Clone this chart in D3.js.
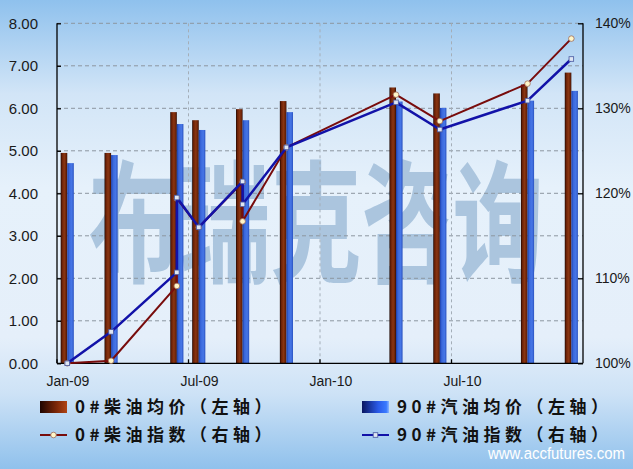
<!DOCTYPE html>
<html><head><meta charset="utf-8">
<script src="https://cdn.jsdelivr.net/npm/d3@7"></script>
<style>body{margin:0;background:#fff;} svg{display:block;}</style>
</head><body><svg id="c" width="633" height="469"></svg>
<script>
// ---------- data ----------
const barMonths = ["2009-01","2009-03","2009-06","2009-07","2009-09","2009-11","2010-04","2010-06","2010-10","2010-12"];
const dieselPrice = [4.95,4.95,5.91,5.72,5.98,6.17,6.49,6.35,6.56,6.84];
const gasolinePrice = [4.71,4.90,5.63,5.49,5.72,5.91,6.16,6.01,6.18,6.41];
const indexMonths = ["2009-01","2009-03","2009-06","2009-06","2009-07","2009-09","2009-09","2009-11","2010-04","2010-06","2010-10","2010-12"];
const dieselIndex = [100,100.3,109.1,119.4,116.0,121.3,116.7,125.4,131.6,128.5,132.9,138.2];
const gasolineIndex = [100,103.7,110.7,119.5,116.0,121.4,118.7,125.4,130.7,127.5,130.9,135.8];
const leftTicks = [0,1,2,3,4,5,6,7,8];
const rightTicks = [100,110,120,130,140];
const xTickMonths = ["2009-01","2009-07","2010-01","2010-07"];
const xTickLabels = ["Jan-09","Jul-09","Jan-10","Jul-10"];
const seriesNames = ["0#柴油均价（左轴）","90#汽油均价（左轴）","0#柴油指数（右轴）","90#汽油指数（右轴）"];
const watermark = "布瑞克咨询";
const siteText = "www.accfutures.com";

// ---------- layout ----------
const W = 633, H = 469;
const L = 57, R = 583, T = 23.3, B = 363.3;
const svg = d3.select("#c");
const defs = svg.append("defs");

function grad(id, stops, horiz) {
  const g = defs.append("linearGradient").attr("id", id)
    .attr("x1", 0).attr("y1", 0).attr("x2", horiz ? 1 : 0).attr("y2", horiz ? 0 : 1);
  stops.forEach(s => g.append("stop").attr("offset", s[0]).attr("stop-color", s[1]));
}
grad("bg", [[0,"#8fc1ed"],[0.2,"#d2e5f7"],[0.4,"#e6f1fb"],[0.72,"#e5effa"],[0.84,"#cde2f6"],[1,"#90c1ec"]], false);
grad("brownBar", [[0,"#1a0500"],[0.2,"#6a2006"],[0.55,"#8a3612"],[0.85,"#6a2208"],[1,"#2a0a00"]], true);
grad("blueBar", [[0,"#1a3ca8"],[0.3,"#3a68dc"],[0.7,"#4676e6"],[1,"#2a52c0"]], true);
grad("brownSw", [[0,"#1e0500"],[0.6,"#7a2608"],[1,"#b04414"]], true);
grad("blueSw", [[0,"#0a1660"],[0.6,"#2a5ae8"],[0.9,"#3a7aff"],[1,"#8ab4ff"]], true);

svg.append("rect").attr("width", W).attr("height", H).attr("fill", "url(#bg)");

// ---------- scales ----------
const months = d3.timeMonth.range(new Date(2009,0,1), new Date(2011,0,1)).map(d3.timeFormat("%Y-%m"));
const x = d3.scaleBand().domain(months).range([L, R]).padding(0);
const yL = d3.scaleLinear().domain([0, 8]).range([B, T]);
const yR = d3.scaleLinear().domain([100, 140]).range([B, T]);
const cx = m => x(m) + x.bandwidth() / 2 - 0.7;

// ---------- watermark ----------
svg.append("text")
  .attr("transform", `translate(316,272) scale(1,1.45)`)
  .attr("text-anchor", "middle")
  .attr("font-family", "'Noto Sans CJK SC'")
  .attr("font-weight", 700)
  .attr("font-size", 91)
  .attr("fill", "#abc5de")
  .text(watermark);

// ---------- gridlines ----------
svg.append("g").selectAll("line").data(leftTicks.filter(d => d > 0)).join("line")
  .attr("x1", L).attr("x2", R).attr("y1", d => yL(d)).attr("y2", d => yL(d))
  .attr("stroke", "#8c96a0").attr("stroke-width", 1).attr("stroke-dasharray", "4,3");
svg.append("g").selectAll("line").data(xTickMonths.slice(1)).join("line")
  .attr("x1", d => x(d)).attr("x2", d => x(d)).attr("y1", T).attr("y2", B)
  .attr("stroke", "#a4aeb8").attr("stroke-width", 1).attr("stroke-dasharray", "3,3");

// ---------- bars ----------
const bw = x.bandwidth() * 0.3;
const bars = svg.append("g");
bars.selectAll("rect.d").data(barMonths).join("rect").attr("class", "d")
  .attr("x", (m) => cx(m) - bw).attr("width", bw)
  .attr("y", (m, i) => yL(dieselPrice[i])).attr("height", (m, i) => B - yL(dieselPrice[i]))
  .attr("fill", "url(#brownBar)");
bars.selectAll("rect.g").data(barMonths).join("rect").attr("class", "g")
  .attr("x", (m) => cx(m)).attr("width", bw)
  .attr("y", (m, i) => yL(gasolinePrice[i])).attr("height", (m, i) => B - yL(gasolinePrice[i]))
  .attr("fill", "url(#blueBar)");

// ---------- axes ----------
const axL = svg.append("g").attr("transform", `translate(${L},0)`)
  .call(d3.axisLeft(yL).tickValues(leftTicks).tickSize(-4).tickPadding(19).tickFormat(d3.format(".2f")));
const axR = svg.append("g").attr("transform", `translate(${R},0)`)
  .call(d3.axisRight(yR).tickValues(rightTicks).tickSize(-5).tickPadding(12).tickFormat(d => d + "%"));
const axB = svg.append("g").attr("transform", `translate(0,${B})`)
  .call(d3.axisBottom(x).tickValues(xTickMonths).tickSize(-4).tickPadding(13)
    .tickFormat((d, i) => xTickLabels[i]));
axB.selectAll(".tick line").attr("transform", `translate(${-x.bandwidth()/2},0)`);
[axL, axR, axB].forEach(a => {
  a.select(".domain").attr("stroke", "#000").attr("stroke-width", 1.3);
  a.selectAll(".tick line").attr("stroke", "#000").attr("stroke-width", 1.3);
  a.selectAll("text").attr("font-family", "'Liberation Sans', Arial, sans-serif").attr("fill", "#1a1a1a");
});
axL.selectAll("text").attr("font-size", 15);
axR.selectAll("text").attr("font-size", 14);
axB.selectAll("text").attr("font-size", 14);
axB.select(".domain").attr("d", `M${L},0H${R}`);
axL.select(".domain").attr("d", `M0,${T}V${B}`);
axR.select(".domain").attr("d", `M0,${T}V${B}`);

// ---------- lines ----------
function drawLine(vals, color, width, marker) {
  const pts = indexMonths.map((m, i) => [cx(m), yR(vals[i])]);
  svg.append("path").attr("d", d3.line()(pts)).attr("fill", "none")
    .attr("stroke", color).attr("stroke-width", width).attr("stroke-linejoin", "round");
  const g = svg.append("g");
  if (marker === "circle") {
    g.selectAll("circle").data(pts).join("circle").attr("cx", d => d[0]).attr("cy", d => d[1]).attr("r", 2.8)
      .attr("fill", "#fff6c8").attr("stroke", "#9a6a5a").attr("stroke-width", 0.8);
  } else {
    g.selectAll("rect").data(pts).join("rect").attr("x", d => d[0] - 2.3).attr("y", d => d[1] - 2.3)
      .attr("width", 4.6).attr("height", 4.6)
      .attr("fill", "#dfe6f2").attr("stroke", "#4858a0").attr("stroke-width", 0.8);
  }
}
drawLine(dieselIndex, "#780c0c", 2, "circle");
drawLine(gasolineIndex, "#1212a8", 2.5, "square");

// ---------- legend ----------
const lg = svg.append("g").attr("font-family", "'Noto Sans CJK SC'").attr("font-weight", 700)
  .attr("font-size", 17).attr("letter-spacing", "4.5px").attr("fill", "#111");
const cols = [40, 362], rows = [407, 435];
const items = [
  {c:0, r:0, type:"bar", fill:"url(#brownSw)"},
  {c:1, r:0, type:"bar", fill:"url(#blueSw)"},
  {c:0, r:1, type:"line", color:"#780c0c", marker:"circle"},
  {c:1, r:1, type:"line", color:"#1212a8", marker:"square"}
];
items.forEach((it, i) => {
  const x0 = cols[it.c], y0 = rows[it.r];
  if (it.type === "bar") {
    lg.append("rect").attr("x", x0).attr("y", y0 - 6).attr("width", 27).attr("height", 12).attr("fill", it.fill);
  } else {
    lg.append("line").attr("x1", x0).attr("x2", x0 + 27).attr("y1", y0).attr("y2", y0)
      .attr("stroke", it.color).attr("stroke-width", 2);
    if (it.marker === "circle")
      lg.append("circle").attr("cx", x0 + 13.5).attr("cy", y0).attr("r", 2.8)
        .attr("fill", "#fff6c8").attr("stroke", "#9a6a5a").attr("stroke-width", 0.8);
    else
      lg.append("rect").attr("x", x0 + 11.2).attr("y", y0 - 2.3).attr("width", 4.6).attr("height", 4.6)
        .attr("fill", "#dfe6f2").attr("stroke", "#4858a0").attr("stroke-width", 0.8);
  }
  lg.append("text").attr("x", x0 + 35).attr("y", y0 + 6).text(seriesNames[i]);
});

// ---------- site text ----------
svg.append("text").attr("transform", "translate(625,459) scale(0.88,1)").attr("text-anchor", "end")
  .attr("font-family", "'Liberation Sans',Arial,sans-serif")
  .attr("font-size", 17).attr("fill", "#ffffff")
  .text(siteText);
</script></body></html>
